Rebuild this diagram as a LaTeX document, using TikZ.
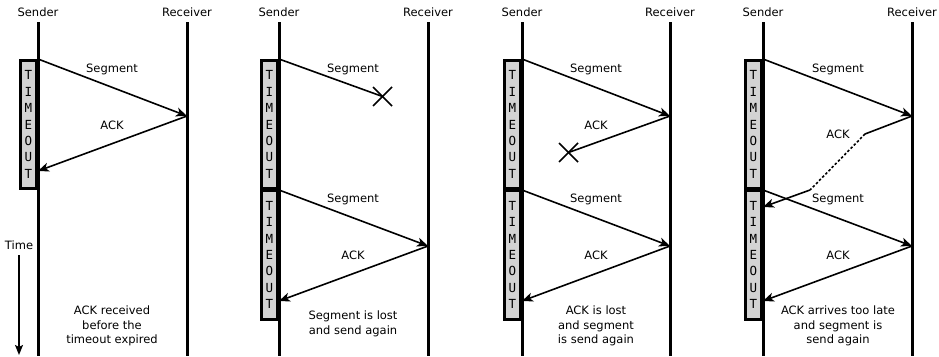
\documentclass[tikz,border=0pt]{standalone}
\usepackage{fontspec}
\setmainfont{DejaVu Sans}
\newfontfamily\monofont{DejaVu Sans Mono}
\usetikzlibrary{arrows.meta,calc}
\definecolor{boxgray}{HTML}{D3D3D3}
\tikzset{
 life/.style={line width=3pt},
 msg/.style={line width=1.6pt,-{Stealth[length=11pt,width=9pt,inset=3pt]}},
 plain/.style={line width=1.6pt},
 dots/.style={line width=1.6pt,dash pattern=on 2.5pt off 2pt},
 lbl/.style={font=\fontsize{11.5}{13}\selectfont, inner sep=0},
 note/.style={inner sep=0, align=center, font=\fontsize{11.5}{14.5}\selectfont},
 tbox/.style={draw, line width=2.6pt, fill=boxgray, minimum width=15.5pt, minimum height=128.5pt, inner sep=0, font=\monofont\fontsize{12.5}{16.4}\selectfont, align=center},
 cross/.style={line width=1.6pt},
 timearrow/.style={line width=1.4pt,-{Stealth[length=10pt,width=8pt,inset=2pt]}}
}
\newcommand{\tout}{T\\I\\M\\E\\O\\U\\T}
\begin{document}
\begin{tikzpicture}[x=1pt,y=-1pt]
\useasboundingbox (0,0) rectangle (939,356);
% ---------- panel 1
\node[lbl] (snd1) at (38,12) {Sender};
\node[lbl] (rcv1) at (187,12) {Receiver};
\coordinate (s1t) at (38,22); \coordinate (s1b) at (38,356);
\coordinate (r1t) at (187,22); \coordinate (r1b) at (187,356);
\draw[life] (s1t) -- (s1b);
\draw[life] (r1t) -- (r1b);
\node[tbox] (box1) at (28.5,124.5) {\tout};
\coordinate (p1a) at (38,59); \coordinate (p1b) at (187,116); \coordinate (p1c) at (38,171);
\draw[msg] (p1a) -- (p1b);
\draw[msg] (p1b) -- (p1c);
\node[lbl] (seg1) at (112,69) {Segment};
\node[lbl] (ack1) at (112,125) {ACK};
\node[lbl] (time) at (19,245) {Time};
\coordinate (ta) at (19,255); \coordinate (tb) at (19,355);
\draw[timearrow] (ta) -- (tb);
\node[note] (n1) at (112,326) {ACK received\\before the\\timeout expired};
% ---------- panel 2
\node[lbl] (snd2) at (279,12) {Sender};
\node[lbl] (rcv2) at (428,12) {Receiver};
\coordinate (s2t) at (279,22); \coordinate (s2b) at (279,356);
\coordinate (r2t) at (428,22); \coordinate (r2b) at (428,356);
\draw[life] (s2t) -- (s2b);
\draw[life] (r2t) -- (r2b);
\node[tbox] (box2a) at (269.5,124.5) {\tout};
\node[tbox] (box2b) at (269.5,255) {\tout};
\coordinate (p2a) at (279,59); \coordinate (x2) at (382.5,96.5);
\draw[plain] (p2a) -- (x2);
\draw[cross] ($(x2)+(-9.5,-9.5)$) -- ($(x2)+(9.5,9.5)$);
\draw[cross] ($(x2)+(-9.5,9.5)$) -- ($(x2)+(9.5,-9.5)$);
\coordinate (p2b) at (279,190); \coordinate (p2c) at (428,246); \coordinate (p2d) at (279,301);
\draw[msg] (p2b) -- (p2c);
\draw[msg] (p2c) -- (p2d);
\node[lbl] (seg2a) at (353,69) {Segment};
\node[lbl] (seg2b) at (353,199) {Segment};
\node[lbl] (ack2) at (353,255) {ACK};
\node[note] (n2) at (353,324) {Segment is lost\\and send again};
% ---------- panel 3
\node[lbl] (snd3) at (522,12) {Sender};
\node[lbl] (rcv3) at (670,12) {Receiver};
\coordinate (s3t) at (522,22); \coordinate (s3b) at (522,356);
\coordinate (r3t) at (670,22); \coordinate (r3b) at (670,356);
\draw[life] (s3t) -- (s3b);
\draw[life] (r3t) -- (r3b);
\node[tbox] (box3a) at (512.5,124.5) {\tout};
\node[tbox] (box3b) at (512.5,255) {\tout};
\coordinate (p3a) at (522,59); \coordinate (p3b) at (670,116); \coordinate (x3) at (568.5,152.5);
\draw[msg] (p3a) -- (p3b);
\draw[plain] (p3b) -- (x3);
\draw[cross] ($(x3)+(-9.5,-9.5)$) -- ($(x3)+(9.5,9.5)$);
\draw[cross] ($(x3)+(-9.5,9.5)$) -- ($(x3)+(9.5,-9.5)$);
\coordinate (p3c) at (522,190); \coordinate (p3d) at (670,246); \coordinate (p3e) at (522,301);
\draw[msg] (p3c) -- (p3d);
\draw[msg] (p3d) -- (p3e);
\node[lbl] (seg3a) at (596,69) {Segment};
\node[lbl] (ack3a) at (596,125) {ACK};
\node[lbl] (seg3b) at (596,199) {Segment};
\node[lbl] (ack3b) at (596,255) {ACK};
\node[note] (n3) at (596,326) {ACK is lost\\and segment\\is send again};
% ---------- panel 4
\node[lbl] (snd4) at (763,12) {Sender};
\node[lbl] (rcv4) at (912,12) {Receiver};
\coordinate (s4t) at (763,22); \coordinate (s4b) at (763,356);
\coordinate (r4t) at (912,22); \coordinate (r4b) at (912,356);
\draw[life] (s4t) -- (s4b);
\draw[life] (r4t) -- (r4b);
\node[tbox] (box4a) at (753.5,124.5) {\tout};
\node[tbox] (box4b) at (753.5,255) {\tout};
\coordinate (p4a) at (763,59); \coordinate (p4b) at (912,116);
\coordinate (k1) at (865,134); \coordinate (k2) at (810,190); \coordinate (p4c) at (763,207);
\draw[msg] (p4a) -- (p4b);
\draw[plain] (p4b) -- (k1);
\draw[dots] (k1) -- (k2);
\draw[msg] (k2) -- (p4c);
\coordinate (p4d) at (763,190); \coordinate (p4e) at (912,246); \coordinate (p4f) at (763,301);
\draw[msg] (p4d) -- (p4e);
\draw[msg] (p4e) -- (p4f);
\node[lbl] (seg4a) at (838,69) {Segment};
\node[lbl] (ack4a) at (838,134) {ACK};
\node[lbl] (seg4b) at (838,199) {Segment};
\node[lbl] (ack4b) at (838,255) {ACK};
\node[note] (n4) at (838,326) {ACK arrives too late\\and segment is\\send again};
\end{tikzpicture}
\end{document}
